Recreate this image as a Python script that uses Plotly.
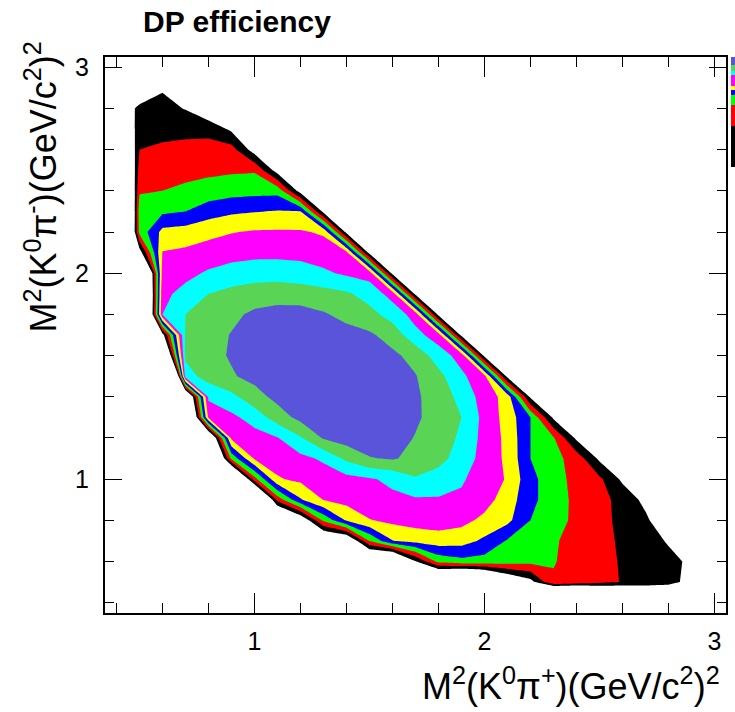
import plotly.graph_objects as go

# ---------------- data ----------------
# grid nodes of the efficiency map (Dalitz variables, GeV^2/c^4)
x_nodes = [0.4, 0.5, 0.6, 0.7, 0.8, 0.9, 1.0, 1.1, 1.2, 1.3, 1.4, 1.5, 1.6, 1.7,
           1.8, 1.9, 2.0, 2.1, 2.2, 2.3, 2.4, 2.5, 2.6, 2.7, 2.8, 2.9, 3.0]
y_nodes_top_down = [3.0, 2.9, 2.8, 2.7, 2.6, 2.5, 2.4, 2.3, 2.2, 2.1, 2.0, 1.9, 1.8, 1.7,
                    1.6, 1.5, 1.4, 1.3, 1.2, 1.1, 1.0, 0.9, 0.8, 0.7, 0.6, 0.5, 0.4]

# efficiency expressed as contour-band position (0 = lowest level, 8 = highest);
# negative = outside the Dalitz region (not drawn). Rows from top (y=3.0) to bottom (y=0.4).
band_rows = [
    [-1]*27,
    [-1, -1, -0.1] + [-1]*24,
    [-1, 0.25, 0.32, -0.05] + [-1]*23,
    [-2.5, 0.63, 0.73, 0.74, 0.71, -0.2] + [-1]*21,
    [-4, 1.0, 1.15, 1.27, 1.35, 1.4, -0.5] + [-1]*20,
    [-5.8, 1.44, 1.57, 1.69, 1.78, 1.86, 1.9, -0.5] + [-1]*19,
    [-7.5, 1.88, 2.0, 2.2, 2.42, 2.6, 2.68, 2.69, -0.5] + [-1]*18,
    [-10, 2.55, 2.81, 3.0, 3.55, 3.83, 3.95, 4.06, 4.04, -0.3] + [-1]*17,
    [-9, 2.3, 4.3, 4.44, 4.71, 4.95, 5.1, 5.12, 5.11, 4.87, -0.3] + [-1]*16,
    [-1, -0.6, 5.05, 5.2, 5.44, 5.6, 5.69, 5.69, 5.65, 5.5, 5.3, -0.3] + [-1]*15,
    [-1, -7, 5.4, 5.73, 6.13, 6.44, 6.62, 6.64, 6.5, 6.17, 5.84, 5.6, -0.3] + [-1]*14,
    [-1, -8, 5.76, 6.32, 7.0, 7.28, 7.44, 7.52, 7.48, 7.37, 7.14, 6.6, 5.6, -0.3] + [-1]*13,
    [-1, -8, 6.0, 7.0, 7.38, 7.77, 8.2, 8.4, 8.4, 8.1, 7.72, 7.32, 6.6, 5.6, -0.3] + [-1]*12,
    [-1, -1, -0.5, 7.15, 7.6, 8.05, 8.3, 8.5, 8.6, 8.5, 8.35, 8.15, 7.6, 6.33, 5.5, -0.3] + [-1]*11,
    [-1, -1, -4, 7.15, 7.67, 8.1, 8.35, 8.55, 8.7, 8.7, 8.6, 8.4, 8.2, 7.67, 6.5, 5.6, -0.3] + [-1]*10,
    [-1, -1, -15, 6.6, 7.4, 7.9, 8.3, 8.6, 8.8, 8.9, 8.8, 8.65, 8.4, 8.05, 7.3, 6.2, 5.3, -0.3] + [-1]*9,
    [-1, -1, -1, -3, 6.2, 6.74, 7.6, 8.3, 8.6, 8.8, 8.9, 8.85, 8.6, 8.15, 7.55, 6.7, 5.55, 4.6, -0.2] + [-1]*8,
    [-1, -1, -1, -5, 5.2, 5.77, 6.44, 7.5, 8.3, 8.6, 8.75, 8.75, 8.55, 8.15, 7.6, 7.0, 5.7, 4.6, 3.0, -0.2] + [-1]*7,
    [-1, -1, -1, -1, -2.5, 5.22, 5.58, 5.95, 6.9, 8.1, 8.45, 8.6, 8.4, 7.95, 7.45, 6.85, 5.65, 4.75, 3.0, 2.1, -0.2] + [-1]*6,
    [-1, -1, -1, -1, -5, 2.25, 5.11, 5.42, 5.73, 6.16, 7.23, 7.93, 8.1, 7.7, 7.3, 6.6, 5.6, 4.8, 3.0, 2.3, 1.6, -0.2] + [-1]*5,
    [-1, -1, -1, -1, -1, -4.5, 1.6, 4.9, 5.22, 5.45, 5.67, 5.9, 6.2, 6.9, 6.6, 6.1, 5.6, 4.9, 3.3, 2.4, 1.7, 1.2, -0.2] + [-1]*4,
    [-1]*6 + [-4.8, 1.35, 3.9, 5.03, 5.35, 5.6, 5.8, 5.88, 5.9, 5.85, 5.4, 4.5, 3.3, 2.4, 1.8, 1.3, 0.7, -0.3, -1, -1, -1],
    [-1]*7 + [-3.2, -1.3, 2.2, 4.1, 4.95, 5.25, 5.4, 5.45, 5.3, 4.75, 4.25, 3.0, 2.35, 1.8, 1.3, 0.75, 0.22, -1, -1, -1],
    [-1]*9 + [-2.2, -1.8, 2.0, 3.95, 4.35, 4.55, 4.4, 3.8, 2.9, 2.5, 2.1, 1.7, 1.3, 0.85, 0.45, -0.1, -1, -1],
    [-1]*11 + [-3, -3.6, -0.1, 2.3, 2.7, 2.6, 2.45, 2.3, 2.05, 1.7, 1.35, 0.9, 0.6, 0.3, -0.2, -1],
    [-1]*14 + [-4, -5, -3.9, -1.6, -0.4, 1.9, 1.6, 1.3, 0.95, 0.6, 0.3, -0.3, -1],
    [-1]*19 + [-8, -8, -6, -5, -3, -2, -1, -1],
]

# palette (z axis) level boundaries, bottom to top
palette_levels = [0.803, 0.876, 0.914, 0.932, 0.940, 0.948, 0.968, 0.975, 0.986, 1.0]

x_tick_vals = [1, 2, 3]
y_tick_vals = [1, 2, 3]

title_text = "<b>DP efficiency</b>"
x_title = "M<sup>2</sup>(K<sup>0</sup>π<sup>+</sup>)(GeV/c<sup>2</sup>)<sup>2</sup>"
y_title = "M<sup>2</sup>(K<sup>0</sup>π<sup>-</sup>)(GeV/c<sup>2</sup>)<sup>2</sup>"

# ---------------- styles ----------------
band_colors = ["#000000", "#ff0000", "#00ff00", "#0000ff", "#ffff00",
               "#ff00ff", "#00ffff", "#59d454", "#5954d9"]
FONT = "Liberation Sans, Arial, Helvetica, sans-serif"

y_nodes = y_nodes_top_down[::-1]
z_grid = band_rows[::-1]

n_lev = len(band_colors)          # 9 levels: 0..8
all_cols = ["#ffffff"] + band_colors   # below lowest level = white
cs_main = []
for i, c in enumerate(all_cols):
    lo = max(0.0, (i - 0.5) / n_lev)
    hi = min(1.0, (i + 0.5) / n_lev)
    cs_main.append([lo, c])
    cs_main.append([hi, c])

cs_pal = []
npal = len(band_colors)
for i, c in enumerate(band_colors):
    lo = max(0.0, (i - 0.5) / (npal - 1))
    hi = min(1.0, (i + 0.5) / (npal - 1))
    cs_pal.append([lo, c])
    cs_pal.append([hi, c])

fig = go.Figure()
fig.add_trace(go.Contour(
    x=x_nodes, y=y_nodes, z=z_grid,
    contours=dict(start=0, end=n_lev - 1, size=1, coloring="fill", showlines=False),
    line=dict(width=0, smoothing=0),
    colorscale=cs_main, showscale=False, hoverinfo="skip",
))
fig.add_trace(go.Heatmap(
    x=[0, 1], y=palette_levels, z=[[k] for k in range(npal)],
    colorscale=cs_pal, zmin=0, zmax=npal - 1, showscale=False,
    xaxis="x2", yaxis="y2", hoverinfo="skip",
))

W, H = 735, 712
ML, MR, MT, MB = 105, 0, 57, 99
plot_w = W - ML - MR
frame_right = 726
pal_left = 731

axis_common = dict(
    ticks="inside", tickwidth=1, tickcolor="black",
    showline=True, linewidth=2, linecolor="black", mirror="allticks",
    showgrid=False, zeroline=False,
    tickfont=dict(family=FONT, size=25, color="black"),
)
fig.update_layout(
    width=W, height=H,
    margin=dict(l=ML, r=MR, t=MT, b=MB, pad=0),
    paper_bgcolor="white", plot_bgcolor="white",
    font=dict(family=FONT, color="black"),
    showlegend=False,
    title=dict(text=title_text, x=237 / W, y=1 - 21 / H, xanchor="center", yanchor="middle",
               font=dict(family=FONT, size=30, color="black")),
    xaxis=dict(domain=[0, (frame_right - ML) / plot_w], range=[0.35, 3.05],
               tickvals=x_tick_vals, ticklen=20, ticklabelstandoff=5,
               minor=dict(tickmode="linear", tick0=0, dtick=0.2, ticks="inside", ticklen=10,
                          tickcolor="black", tickwidth=1, showgrid=False),
               **axis_common),
    yaxis=dict(domain=[0, 1], range=[0.35, 3.05],
               tickvals=y_tick_vals, ticklen=17, ticklabelstandoff=9,
               minor=dict(tickmode="linear", tick0=0, dtick=0.2, ticks="inside", ticklen=9,
                          tickcolor="black", tickwidth=1, showgrid=False),
               **axis_common),
    xaxis2=dict(domain=[(pal_left - ML) / plot_w, 1], range=[0, 1], visible=False, anchor="y2"),
    yaxis2=dict(domain=[0, 1], range=[0, 1], visible=False, anchor="x2"),
    annotations=[
        dict(text=x_title, xref="paper", yref="paper",
             x=(722 - ML) / plot_w, y=-(684 - (H - MB)) / (H - MT - MB),
             xanchor="right", yanchor="middle", showarrow=False,
             font=dict(family=FONT, size=36, color="black")),
        dict(text=y_title, xref="paper", yref="paper", textangle=-90,
             x=(40 - ML) / plot_w, y=1 + (MT - 40) / (H - MT - MB),
             xanchor="center", yanchor="top", showarrow=False,
             font=dict(family=FONT, size=36, color="black")),
    ],
)

fig.write_html("out.html")
